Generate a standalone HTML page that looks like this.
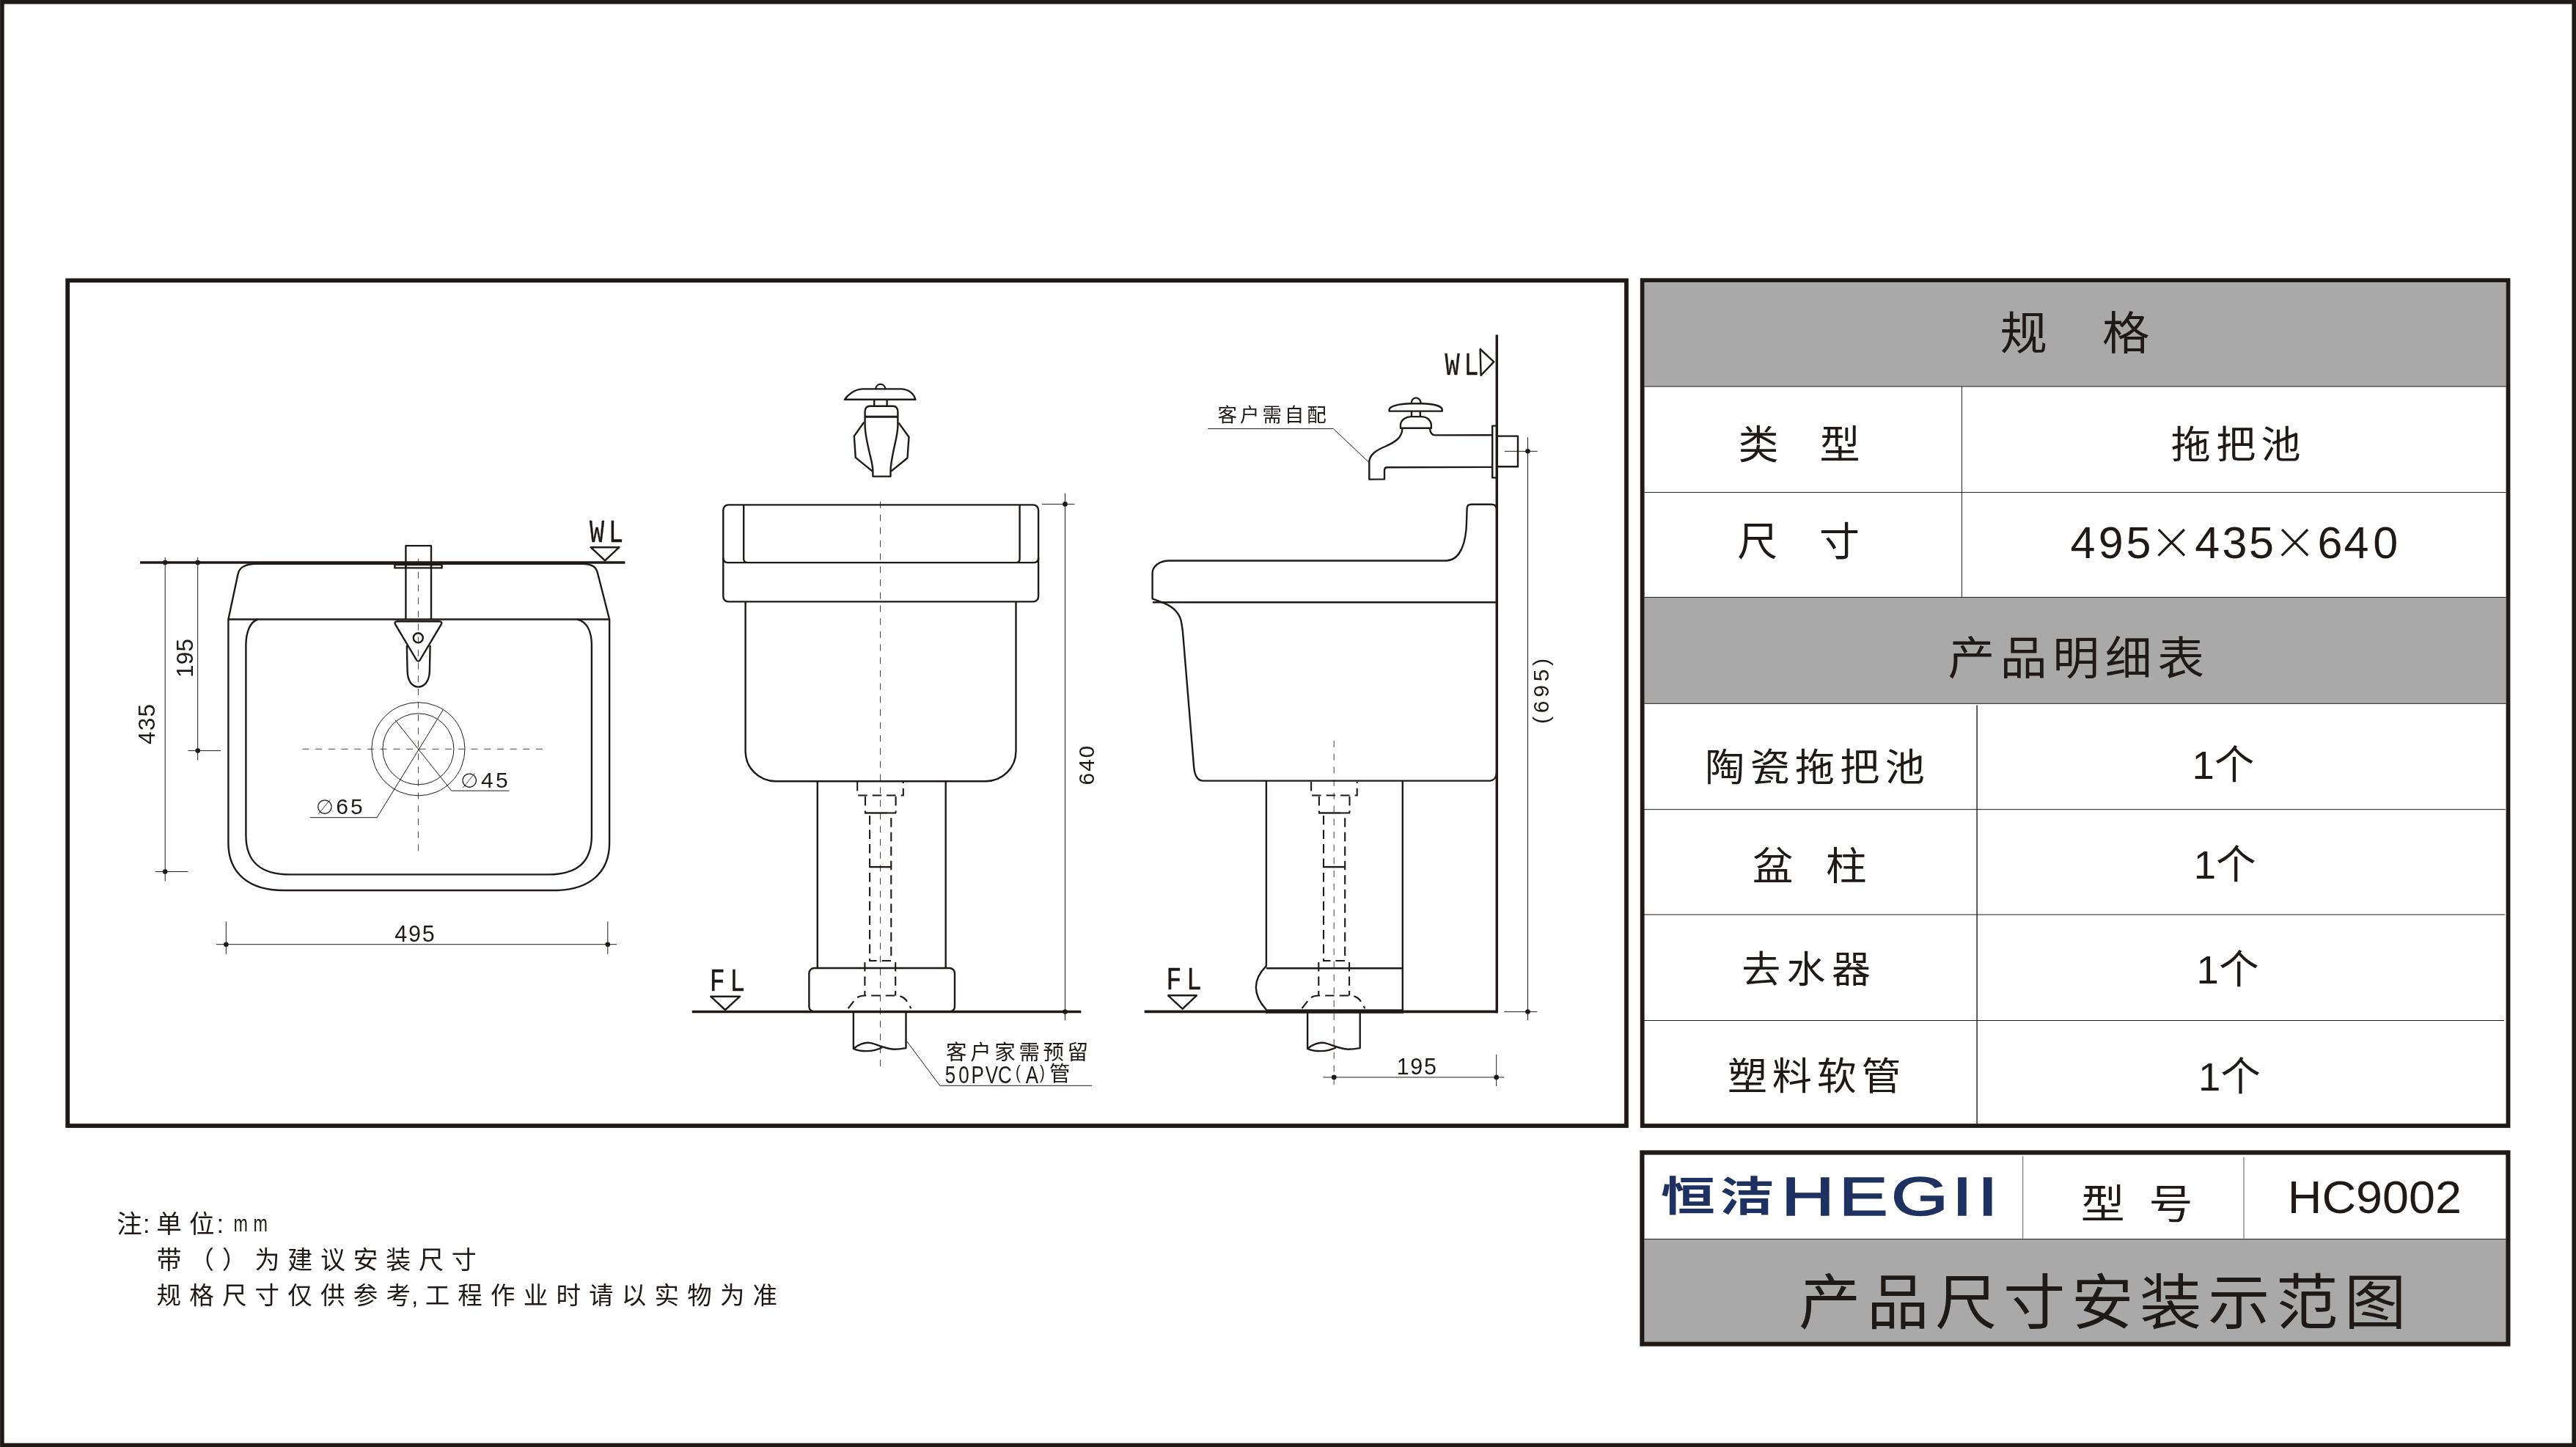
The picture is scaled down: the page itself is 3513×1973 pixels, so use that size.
<!DOCTYPE html>
<html lang="zh-CN">
<head>
<meta charset="utf-8">
<title>HC9002 产品尺寸安装示范图</title>
<style>
html,body{margin:0;padding:0;background:#fff;}
body{width:3513px;height:1973px;overflow:hidden;}
svg{display:block;will-change:transform;}
.k{stroke:#1f1a17;fill:none;}
.m{stroke:#1f1a17;fill:none;stroke-width:2.4;stroke-linejoin:round;stroke-linecap:butt;}
.t{stroke:#1f1a17;fill:none;stroke-width:1;}
.c{stroke:#45413e;fill:none;stroke-width:1;stroke-dasharray:9 8.7;}
.h{stroke:#1f1a17;fill:none;stroke-width:2.1;stroke-dasharray:12.5 7;}
.d{fill:#1f1a17;stroke:none;}
text{fill:#1f1a17;font-family:"Liberation Sans","Noto Sans CJK SC",sans-serif;}
.cj{font-family:"Liberation Sans","Noto Sans CJK SC",sans-serif;}
.cad{font-family:"Liberation Mono","Noto Sans CJK SC",monospace;}
.sk{stroke:#1f1a17;stroke-width:0.45;}
.lg{fill:#1e3160;}
.dia{font-family:"DejaVu Sans","Liberation Sans",sans-serif;stroke:#fff;stroke-width:0.3;}
.xx{font-size:96px;stroke:#fff;stroke-width:3.6;}
</style>
</head>
<body>
<svg width="3513" height="1973" viewBox="0 0 3513 1973">
<rect x="0" y="0" width="3513" height="1973" fill="#ffffff"/>

<!-- ===== outer page border ===== -->
<rect class="k" x="2.9" y="2.7" width="3507.3" height="1967.8" stroke-width="5.6"/>

<!-- ===== drawing frame ===== -->
<rect class="k" x="92.2" y="382.4" width="2125.8" height="1152.6" stroke-width="5.8"/>

<!-- ===== spec table ===== -->
<g id="spec-table">
<rect x="2242.6" y="385.4" width="1175" height="141.6" fill="#a9a9a9"/>
<rect x="2242.6" y="814.4" width="1175" height="144.9" fill="#a9a9a9"/>
<rect class="k" x="2239.7" y="382.2" width="1180.8" height="1152.8" stroke-width="5.8"/>
<!-- thin rules -->
<path class="t" d="M2242.6 527H3417.6M2242.6 671.4H3417.6M2242.6 814.4H3417.6M2242.6 959.3H3417.6"/>
<path class="t" d="M2675.4 527V814.4"/>
<path class="k" stroke-width="1.4" d="M2696.1 961.5V1532"/>
<path class="t" d="M2237 1103.7H3416.7M2237 1247.1H3416M2237 1391.5H3415"/>
</g>

<!-- ===== title block ===== -->
<g id="title-block">
<rect x="2242.4" y="1689.6" width="1175" height="140" fill="#a9a9a9"/>
<rect class="k" x="2239.4" y="1571.5" width="1181" height="261.1" stroke-width="6.2"/>
<path class="t" d="M2242.4 1689.6H3417.4" />
<path class="t" style="stroke:#5f5b59" d="M2758.7 1576.5V1688.6M3060 1578V1688.6"/>
</g>

<!-- ===== TOP VIEW ===== -->
<g id="top-view">
<!-- thin dimension / center lines -->
<path class="t" d="M225.2 760V1201.5M212 1188.5H256.5M269.7 760V1036.5M256.5 1023.6H301"/>
<path class="t" d="M295 1287.7H841M308.3 1256.5V1300.8M828.8 1256.5V1300.8"/>
<path class="c" stroke-dasharray="9 5.9" d="M412.4 1021.3H741"/>
<path class="c" d="M570.4 762V1160.6"/>
<circle class="t" cx="570.4" cy="1021.3" r="63.6"/>
<circle class="t" cx="570.4" cy="1021.3" r="48.5"/>
<path class="t" d="M422.9 1114.7H514.1L604.1 968.2M694.5 1078.2H615.7L539 981.8"/>
<!-- wall line -->
<path class="k" stroke-width="3.5" d="M191.1 767H852.4"/>
<!-- basin -->
<path class="m" d="M311.4 844.5L324.4 783.2C326.3 774 333.1 768.9 349.7 768.7H793.9C810 768.9 813.6 774.5 815.5 783.2L831.1 844.5"/>
<path class="m" d="M311.4 844.5H831.1V1149.8C831.1 1191 802 1214 756 1214H386.6C340 1214 311.4 1191 311.4 1149.8Z"/>
<path class="m" d="M351.4 844.5C341 848 335.4 862 335.4 880V1139C335.4 1176 356 1192.4 395.6 1192.4H747C787 1192.4 806.9 1176 806.9 1139V880C806.9 862 801 848 787.3 844.5"/>
<!-- faucet -->
<path class="m" d="M553.4 844.5V744.1H588V844.5"/>
<rect class="m" x="538.4" y="770" width="64.2" height="4.4" fill="#fff" stroke-width="2"/>
<path class="m" d="M553.4 770V775M588 770V775" />
<path class="m" fill="#fff" d="M554.8 880L555.6 915C556 929 562 936.6 570.4 936.6C579 936.6 585.4 929 585.9 915L586.6 880"/>
<path class="m" fill="#fff" d="M542 847.3H598.8Q604 847.3 601.4 851.8L573 899.5Q570.4 903.8 567.8 899.5L539.4 851.8Q536.8 847.3 542 847.3Z"/>
<circle class="m" cx="570.3" cy="869.8" r="6.5"/>
<!-- dots -->
<g class="d">
<circle cx="225.2" cy="767" r="3.3"/><circle cx="269.7" cy="767" r="3.3"/>
<circle cx="225.2" cy="1188.5" r="3.3"/><circle cx="269.7" cy="1023.6" r="3.3"/>
<circle cx="308.3" cy="1287.7" r="3.3"/><circle cx="828.8" cy="1287.7" r="3.3"/>
</g>
<!-- WL marker -->
<path class="m" stroke-width="2" d="M805.6 746.2H844.4L825.1 764.4Z" stroke-linejoin="miter"/>
<!-- dimension texts -->
</g>

<!-- ===== FRONT VIEW ===== -->
<g id="front-view">
<path class="t" d="M1452.5 672.5V1391M1421 687.4H1465.5"/>
<path class="c" d="M1200.5 683.8V1455"/>
<!-- rim -->
<rect class="m" x="986.3" y="688.4" width="429.8" height="132" rx="7" ry="7"/>
<path class="m" d="M986.3 760.5Q986.3 767.1 993 767.1H1409.5Q1416.1 767.1 1416.1 760.5M1014.2 688.4V762Q1014.2 767.1 1019.5 767.1M1390.6 688.4V762Q1390.6 767.1 1385.3 767.1"/>
<!-- bowl -->
<path class="m" d="M1016.6 820.4V1024.2A41 41 0 0 0 1057.6 1065.2H1344.5A41 41 0 0 0 1385.5 1024.2V820.4"/>
<!-- pedestal -->
<path class="m" d="M1114.8 1065.2V1320M1289.7 1065.2V1320"/>
<rect class="m" x="1103.4" y="1320" width="198.6" height="59.5" rx="7" ry="7"/>
<path class="h" d="M1169.2 1066V1084.5H1231.8V1066"/>
<path class="h" d="M1180.0 1086V1108.5M1221.6 1086V1108.5"/>
<path class="m" stroke-width="2" d="M1179.2 1108.5H1210.0"/>
<path class="h" d="M1210.0 1108.5H1222.0"/>
<path class="h" d="M1186.1 1112V1310H1215.3V1112"/>
<path class="m" stroke-width="2" d="M1186.1 1182.1H1215.3"/>
<path class="h" d="M1179.4 1312V1357.5M1221.2 1312V1357.5"/>
<path class="h" stroke-dasharray="13 7" d="M1156.6 1375L1166.0 1363Q1170.5 1357.5 1179.4 1357.5H1221.2Q1231.0 1357.5 1236.0 1364L1242.5 1375"/>
<!-- floor line -->
<path class="k" stroke-width="3.5" d="M943.8 1379.6H1474.4"/>
<path class="m" d="M1163.9 1381V1429.8C1170.0 1424.5 1179.3 1420.4 1187.5 1422.2C1195.7 1423.9 1207.5 1430.4 1219.2 1430.7C1226.3 1430.7 1231.0 1429.8 1235.5 1429V1381"/><path class="m" d="M1163.9 1429.8C1172.4 1433.9 1190.0 1435.1 1202.9 1428.3"/>
<g class="d"><circle cx="1452.5" cy="687.4" r="3.3"/><circle cx="1452.5" cy="1379.6" r="3.3"/></g>
<!-- FL marker -->
<path class="m" stroke-width="2" stroke-linejoin="miter" d="M969.2 1358.7H1009L989 1377Z"/>
<!-- leader -->
<path class="t" d="M1236.2 1419.2L1281.8 1480.3H1489"/>
<!-- faucet front -->
<g id="faucet-front">
<path class="m" fill="#fff" d="M1194 530.4A6.9 7.8 0 0 1 1207.6 530.4"/>
<path class="m" d="M1151.8 544.8C1157 537 1166 531 1176 530.4H1229.5C1239.5 531 1246.5 537 1248.4 544.8Z"/>
<path class="m" d="M1192.2 545V553.6M1209.6 545V553.6"/>
<path class="m" d="M1178.2 575.8L1164.8 594.6L1166.8 623.9L1189.8 642.6M1225.4 576.4L1239.5 595.7L1237.5 624.5L1215.2 642.6"/>
<path class="m" fill="#fff" d="M1190.4 649.6V643C1190.3 634 1187.6 625.5 1185.8 617.5C1183.9 609 1179.6 592 1179.6 580V561Q1180 554 1186 553.8H1218Q1224 554 1224.4 561V580C1224.4 592 1219.4 609 1217.9 617.5C1216.4 625.5 1214.5 634 1214.5 643V649.6Z"/>
<path class="k" stroke-width="3" d="M1179.8 568.2H1224.2"/>
</g>
</g>

<!-- ===== SIDE VIEW ===== -->
<g id="side-view">
<path class="t" d="M2083.5 596.3V1391M2051.8 615.3H2096.6M2051.4 1379.6H2096.4"/>
<path class="t" d="M1804.4 1468.9H2051.4M2040.7 1437.8V1481"/>
<path class="c" d="M1819.2 1010V1481"/>
<!-- basin -->
<path class="m" d="M1571.9 821.2H2041"/>
<path class="m" d="M2040.5 693Q2040 687.7 2034 687.7H2006Q2001 687.7 2000.6 693C2000.3 700 2000.3 710 1999.5 722C1997 748 1988 764.5 1972 764.5H1593.1C1581 765 1572 772 1571.6 781V816.3L1588.7 822.9C1600 828 1607 834 1610.3 845C1612 852 1612.5 858 1613 861.6L1628.2 1046.3C1629.5 1059 1634 1064.6 1641 1064.6H2030.5Q2040 1064.6 2041 1054"/>
<!-- pedestal -->
<path class="m" d="M1726.9 1064.6V1317.1C1717 1327 1712.8 1337 1712.8 1346C1712.8 1356 1717 1366 1726.9 1376.8M1726.9 1320.2H1912.8M1912.8 1064.6V1378"/>
<path class="k" stroke-width="5.5" d="M1726 1379H1914"/>
<path class="h" d="M1788.1 1066V1084.5H1850.7V1066"/>
<path class="h" d="M1798.9 1086V1108.5M1840.5 1086V1108.5"/>
<path class="m" stroke-width="2" d="M1798.1 1108.5H1828.9"/>
<path class="h" d="M1828.9 1108.5H1840.9"/>
<path class="h" d="M1805.0 1112V1310H1834.2V1112"/>
<path class="m" stroke-width="2" d="M1805.0 1182.1H1834.2"/>
<path class="h" d="M1798.3 1312V1357.5M1840.1 1312V1357.5"/>
<path class="h" stroke-dasharray="13 7" d="M1775.5 1375L1784.9 1363Q1789.4 1357.5 1798.3 1357.5H1840.1Q1849.9 1357.5 1854.9 1364L1861.4 1375"/>
<!-- floor + wall -->
<path class="k" stroke-width="3.6" d="M1560.7 1379.4H2043"/>
<path class="k" stroke-width="3.5" d="M2041.3 456.4V1381.2"/>
<path class="m" d="M1783.1 1381V1429.8C1789.2 1424.5 1798.5 1420.4 1806.7 1422.2C1814.9 1423.9 1826.7 1430.4 1838.4 1430.7C1845.5 1430.7 1850.2 1429.8 1854.7 1429V1381"/><path class="m" d="M1783.1 1429.8C1791.6 1433.9 1809.2 1435.1 1822.1 1428.3"/>
<g class="d"><circle cx="2083.5" cy="615.3" r="3.3"/><circle cx="2083.5" cy="1379.6" r="3.3"/><circle cx="1819.2" cy="1468.9" r="3.3"/><circle cx="2040.7" cy="1468.9" r="3.3"/></g>
<!-- faucet side -->
<g id="faucet-side">
<path class="m" d="M1924.6 550C1925 545.5 1927.5 542.4 1931 542.4C1934.5 542.4 1937.3 545.5 1937.7 550"/>
<path class="m" d="M1894.6 560.6V558.2C1895.6 553.4 1908.6 550.6 1924 550.3H1938.4C1953.9 550.6 1965.8 553.4 1966.8 558.2V560.6Z"/>
<path class="m" d="M1925 561V568M1936.8 561V568"/>
<path class="m" d="M1910 583.7V578.6C1911 572.2 1917.4 568.1 1924 568.1H1938.4C1946.2 568.1 1951.4 573.1 1951.9 579.7V583.7Z"/>
<path class="m" d="M1912.4 584.7C1911.9 597.4 1901.9 602.9 1889.8 608.5C1876.5 614 1868.4 619.5 1867.3 628.9V653.6L1888 653.4V641.6Q1888.2 637.3 1892 637.3L2034.5 636.9M1950 584.7C1950.6 590.8 1952.8 593.4 1957.2 593.4L2034.5 593.2"/>
<rect class="m" x="2035.2" y="580.6" width="6.6" height="70.8" fill="#fff"/>
<path class="m" d="M2043 594.6H2070V636.3H2043"/>
</g>
<!-- FL marker -->
<path class="m" stroke-width="2" stroke-linejoin="miter" d="M1593 1357.3H1631.8L1612.7 1375.6Z"/>
<!-- WL marker -->
<path class="m" stroke-width="2" stroke-linejoin="miter" d="M2018.6 476L2019.6 511.8L2037.2 493.3Z"/>
<!-- labels -->
<path class="t" d="M1647.2 584.6H1818.3L1866.4 630"/>
</g>



<!-- TEXT-BEGIN -->
<g id="texts">
<text id="tA" transform="translate(2727.6 476.8) scale(1.04 1)" font-size="62" x="0 134.1">规格</text>
<text id="tB" transform="translate(2370.4 625.6) scale(1.02 1)" font-size="54" x="0 108.9">类型</text>
<text id="tC" transform="translate(2960.8 625.2) scale(1.04 1)" font-size="52" letter-spacing="7">拖把池</text>
<text id="tD" transform="translate(2369.2 757.6) scale(1.02 1)" font-size="54" x="0 109.5">尺寸</text>
<text id="tE" transform="translate(2824.0 761.0)" font-size="61" x="-0.4 37.8 75.4 109.2 169.2 206.4 243.0 277.4 336.4 372.4 412.2">495<tspan class="xx" dy="10.5">×</tspan><tspan dy="-10.5">435</tspan><tspan class="xx" dy="10.5">×</tspan><tspan dy="-10.5">640</tspan></text>
<text id="tF" transform="translate(2656.4 920.4) scale(1.03 1)" font-size="62" letter-spacing="7.4">产品明细表</text>
<text id="tG" transform="translate(2325.3 1064.8) scale(1.04 1)" font-size="52" letter-spacing="7">陶瓷拖把池</text>
<text id="tH" transform="translate(2989.5 1062.0)" font-size="54.5">1个</text>
<text id="tI" transform="translate(2389.8 1200.0) scale(1.05 1)" font-size="53" x="0 95.5">盆柱</text>
<text id="tJ" transform="translate(2991.8 1198.0)" font-size="54.5">1个</text>
<text id="tK" transform="translate(2375.2 1340.2) scale(1.04 1)" font-size="51" letter-spacing="8">去水器</text>
<text id="tL" transform="translate(2995.6 1341.2)" font-size="54.5">1个</text>
<text id="tM" transform="translate(2356.0 1485.6) scale(1.04 1)" font-size="52" letter-spacing="6.5">塑料软管</text>
<text id="tN" transform="translate(2998.0 1486.6)" font-size="54.5">1个</text>
<text id="tP" transform="translate(2837.8 1661.2) scale(1.09 1)" font-size="55" x="0 85">型号</text>
<text id="tQ" transform="translate(3119.7 1654.4) scale(1.035 1)" font-size="62.5">HC9002</text>
<text id="tR" transform="translate(2453.0 1805.2) scale(1.03 1)" font-size="82" letter-spacing="8.3">产品尺寸安装示范图</text>
<text id="lg1" transform="translate(2265.0 1650.5) scale(1.32 1)" font-size="56" letter-spacing="5" class="cj lg" font-weight="bold">恒洁</text>
<text id="lg2" transform="translate(2429.0 1656.6) scale(1.34 1)" font-size="74.8" class="lg" stroke="#1e3160" stroke-width="1.7" stroke-linejoin="miter" x="0.2 58.8 111.9 173.8 199.9">HEGII</text>
<text id="n1" transform="translate(159.2 1680.7)" font-size="34.5" letter-spacing="10.2" class="cj">注<tspan dx="-9">:</tspan><tspan dx="-1.5">单位</tspan><tspan dx="-7">:</tspan></text>
<text id="n2" transform="translate(213.4 1729.8)" font-size="34" letter-spacing="10.7" class="cj">带（）为建议安装尺寸</text>
<text id="n3" transform="translate(213.5 1778.1)" font-size="33.5" letter-spacing="11.2" class="cj">规格尺寸仅供参考<tspan dx="-10">,</tspan><tspan dx="-2">工程作业时请以实物为准</tspan></text>
<text id="wl1" transform="translate(803.9 739.0) scale(0.755 1)" font-size="44.3" letter-spacing="8" class="cad sk">WL</text>
<text id="d495" transform="translate(538.3 1284.0)" font-size="30.5" letter-spacing="1.8">495</text>
<text id="d435" transform="translate(211.2 1014.9) rotate(-90)" font-size="31.5" letter-spacing="1.2">435</text>
<text id="d195a" transform="translate(263.4 924.0) rotate(-90)" font-size="31.5" letter-spacing="0.2">195</text>
<text id="p65" transform="translate(430.8 1110.2)" font-size="30" letter-spacing="3"><tspan class="dia" font-size="28">∅</tspan>65</text>
<text id="p45" transform="translate(628.1 1074.2)" font-size="30" letter-spacing="3.4"><tspan class="dia" font-size="28">∅</tspan>45</text>
<text id="fl1" transform="translate(967.8 1351.4) scale(0.8 1)" font-size="43.6" letter-spacing="8.2" class="cad sk">FL</text>
<text id="note1" transform="translate(1290.1 1444.8)" font-size="28.5" letter-spacing="4.6" class="cj">客户家需预留</text>
<text id="note2" transform="translate(1287.8 1476.6) scale(0.8 1)" font-size="32.5" x="1.2 24.3 45.9 70.1 91.4 121.6 138.8 162.9">50PVC<tspan font-size="25.5" dy="-5.2">(</tspan><tspan dy="5.2">A</tspan><tspan font-size="25.5" dy="-5.2">)</tspan></text>
<text id="d640" transform="translate(1492.2 1070.4) rotate(-90)" font-size="30" letter-spacing="1.8">640</text>
<text id="wl2" transform="translate(1970.5 510.5) scale(0.755 1)" font-size="44.3" letter-spacing="8" class="cad sk">WL</text>
<text id="fl2" transform="translate(1590.6 1349.2) scale(0.8 1)" font-size="43.6" letter-spacing="8.2" class="cad sk">FL</text>
<text id="note3" transform="translate(1660.6 575.4)" font-size="26.5" letter-spacing="3.9" class="cj">客户需自配</text>
<text id="d195b" transform="translate(1904.8 1464.8)" font-size="30.5" letter-spacing="1.6">195</text>
<text id="d695" transform="translate(2111.6 987.0) rotate(-90)" font-size="30" letter-spacing="4.8">(695)</text>
<text id="note2b" transform="translate(1431.1 1474.2)" font-size="28.5" class="cj">管</text>
<text id="n1b" transform="translate(318.6 1679.4) scale(0.73 1)" font-size="32" letter-spacing="10.3">mm</text>
</g>
<!-- TEXT-END -->
</svg>
</body>
</html>
